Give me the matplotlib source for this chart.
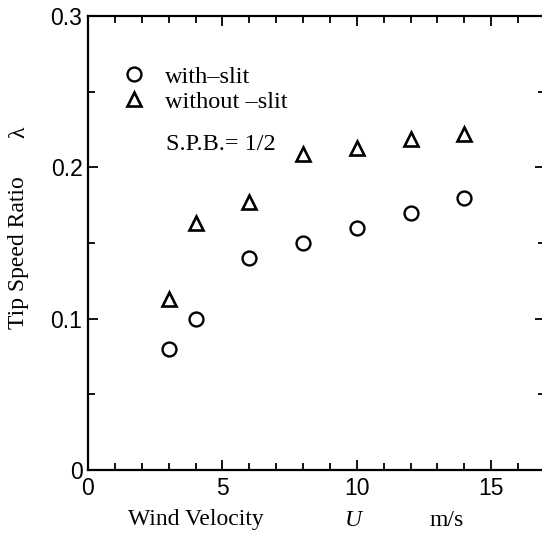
import matplotlib.pyplot as plt
from matplotlib.ticker import MultipleLocator, FixedFormatter, FixedLocator

# data
wind = [3, 4, 6, 8, 10, 12, 14]
with_slit = [0.080, 0.100, 0.140, 0.150, 0.160, 0.170, 0.180]
without_slit = [0.113, 0.163, 0.177, 0.209, 0.213, 0.219, 0.222]

W, H = 542, 537
serif = "Liberation Serif"
sans = "Liberation Sans"


def main():
    fig = plt.figure(figsize=(W / 100, H / 100), dpi=100)
    ax = fig.add_axes([88 / W, 67 / H, 457 / W, 454 / H])

    ax.plot(wind, with_slit, "o", ms=10, mfc="none", mec="black", mew=1.7,
            label="with\u2013slit")
    ax.plot(wind, without_slit, "^", ms=10, mfc="none", mec="black", mew=1.9,
            label="without \u2013slit")

    ax.set_xlim(0, 17)
    ax.set_ylim(0, 0.3)

    ax.xaxis.set_major_locator(FixedLocator([0, 5, 10, 15]))
    ax.xaxis.set_minor_locator(MultipleLocator(1))
    ax.yaxis.set_major_locator(FixedLocator([0, 0.1, 0.2, 0.3]))
    ax.yaxis.set_major_formatter(FixedFormatter(["0", "0.1", "0.2", "0.3"]))
    ax.yaxis.set_minor_locator(MultipleLocator(0.05))

    ax.tick_params(which="both", direction="in", top=True, right=True,
                   width=1.3, labelsize=16.5, labelfontfamily=sans)
    ax.tick_params(which="major", length=7)
    ax.tick_params(which="minor", length=5)
    ax.tick_params(axis="x", which="major", pad=5)
    ax.tick_params(axis="y", which="major", pad=4)
    for s in ax.spines.values():
        s.set_linewidth(1.6)

    ax.legend(loc="upper left", bbox_to_anchor=(0.052, 0.912),
              frameon=False, handletextpad=0.8, labelspacing=0.12,
              prop={"family": serif, "size": 17.5},
              handlelength=1.0, borderaxespad=0)

    ax.text(2.92, 0.215, "S.P.B.= 1/2", family=serif, fontsize=17.5,
            va="center")

    # axis labels placed as in the original
    fig.text(196 / W, 1 - 520 / H, "Wind Velocity", family=serif, fontsize=17,
             ha="center", va="center")
    fig.text(353 / W, 1 - 520 / H, "U", family=serif, fontsize=17,
             style="italic", ha="center", va="center")
    fig.text(447 / W, 1 - 520 / H, "m/s", family=serif, fontsize=17,
             ha="center", va="center")
    fig.text(19 / W, 1 - 253 / H, "Tip Speed Ratio", family=serif, fontsize=17,
             rotation=90, ha="center", va="center")
    fig.text(19 / W, 1 - 132 / H, "\u03bb", family=serif, fontsize=17,
             rotation=90, ha="center", va="center")

    fig.savefig("out.png", dpi=100)


if __name__ == "__main__":
    main()
